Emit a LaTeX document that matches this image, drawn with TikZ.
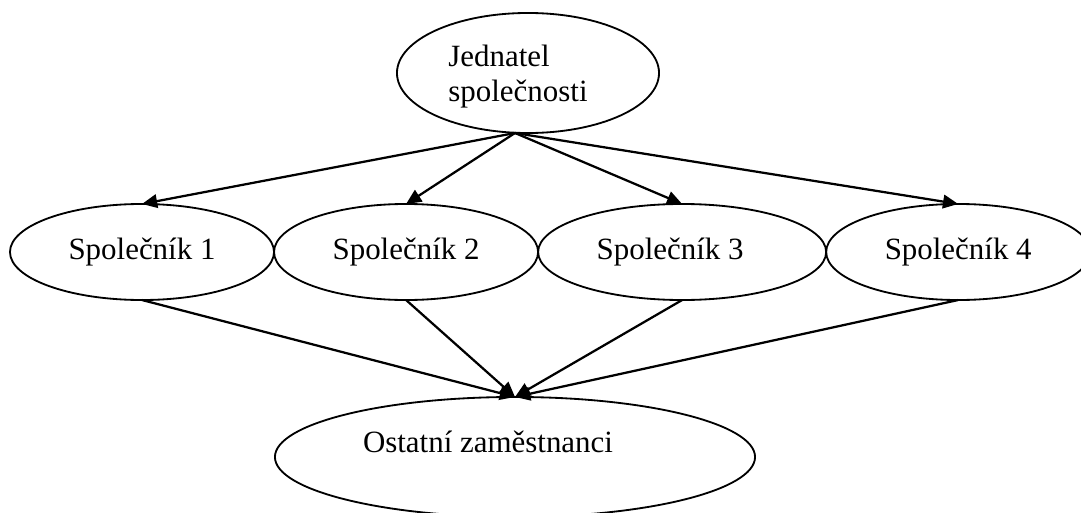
\documentclass[tikz,border=0pt]{standalone}
\usepackage{fontspec}
\setmainfont{Liberation Serif}
\usetikzlibrary{arrows.meta,shapes,positioning}

\begin{document}
\begin{tikzpicture}[
        x=0.025cm, y=-0.025cm,
        every node/.style={draw, ellipse, line width=1.3pt, inner sep=0pt, outer sep=0pt,
            font=\fontsize{22}{25}\selectfont, align=center},
        partner/.style={minimum width=6.6cm, minimum height=2.4cm},
        link/.style={line width=1.6pt, -{Triangle[length=0.38cm,width=0.34cm]}}
    ]
    \useasboundingbox (0,0) rectangle (1081,513);

    % Nodes
    \node (boss) at (528,73) [minimum width=6.55cm, minimum height=3cm, align=left]
        {\rule{0pt}{0.7cm}Jednatel\\ společnosti\hspace*{0.5cm}};

    \node (p1) at (142,252) [partner] {Společník 1};
    \node (p2) [right=0pt of p1, partner] {Společník 2};
    \node (p3) [right=0pt of p2, partner, minimum width=7.2cm] {Společník 3\hspace*{0.6cm}};
    \node (p4) [right=0pt of p3, partner] {Společník 4};

    \node (staff) at (515,457) [minimum width=12cm, minimum height=3cm, text depth=0.75cm]
        {Ostatní zaměstnanci\hspace*{1.35cm}};

    \coordinate (fork) at (515,133);

    % Edges
    \draw[link] (fork) -- (p1.north);
    \draw[link] (fork) -- (p2.north);
    \draw[link] (fork) -- (p3.north);
    \draw[link] (fork) -- (p4.north);
    \draw[link] (p1.south) -- (staff.north);
    \draw[link] (p2.south) -- (staff.north);
    \draw[link] (p3.south) -- (staff.north);
    \draw[link] (p4.south) -- (staff.north);

\end{tikzpicture}
\end{document}
